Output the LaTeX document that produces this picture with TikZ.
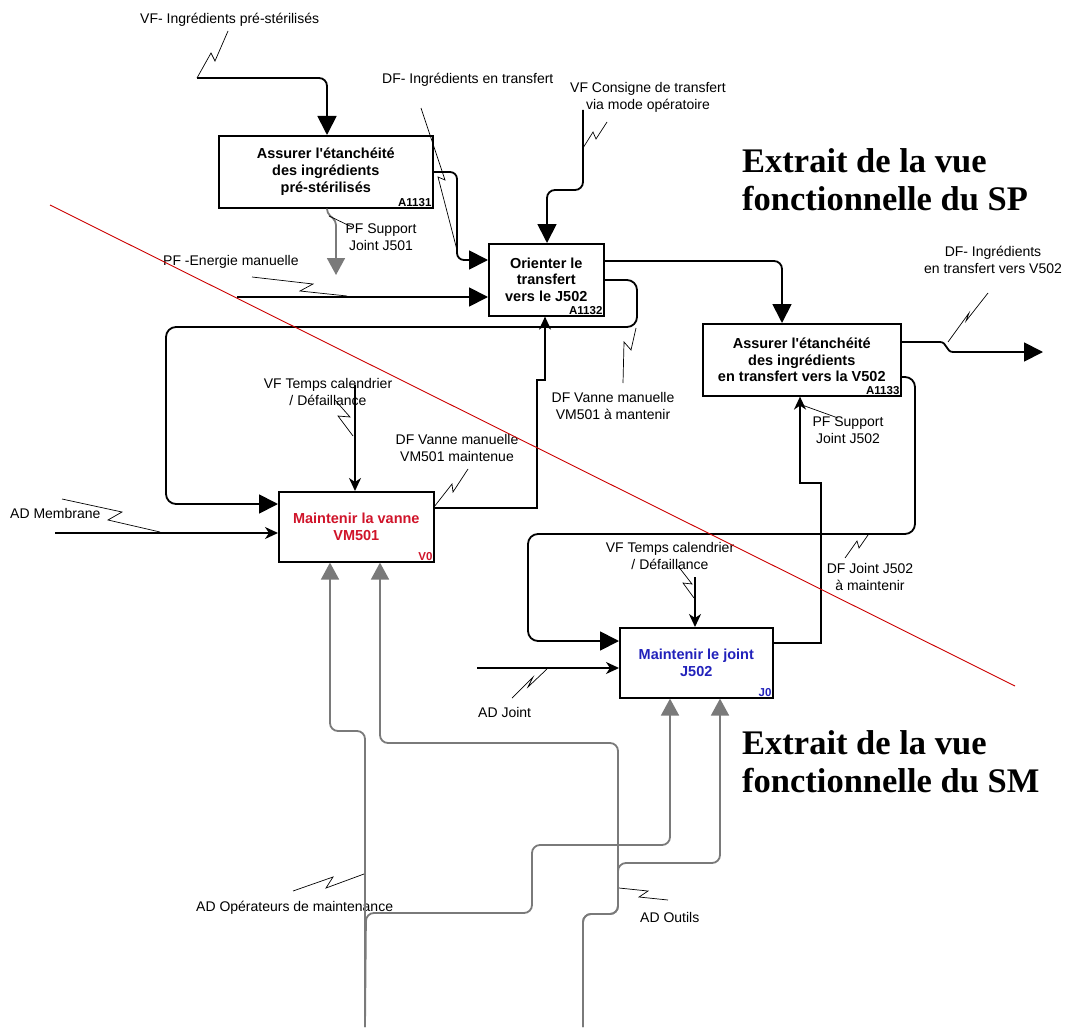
\documentclass[tikz,border=0pt]{standalone}
\usepackage{fontspec}
\setmainfont{Liberation Sans}
\newfontfamily\titlefont{Liberation Serif}
\usetikzlibrary{arrows.meta}
\definecolor{grayline}{HTML}{7A7A7A}
\definecolor{vred}{HTML}{D0142A}
\definecolor{jblue}{HTML}{2222BB}
\definecolor{diagred}{HTML}{CC0000}
\tikzset{
  box/.style={draw, line width=1.6pt, fill=white, anchor=north west, align=center, inner sep=0pt, font=\fontsize{14.5}{16.8}\selectfont\bfseries},
  boxid/.style={anchor=south east, inner sep=2pt, font=\fontsize{11.5}{13}\selectfont\bfseries},
  lbl/.style={align=center, inner sep=0pt, font=\fontsize{14}{17}\selectfont},
  flow/.style={draw, line width=1.8pt, rounded corners=8pt},
  bigtip/.style={-{Triangle[length=19pt,width=19pt]}},
  smalltip/.style={-{Stealth[length=13pt,width=12pt,inset=4pt]}},
  gflow/.style={draw=grayline, line width=1.8pt, rounded corners=8pt, -{Triangle[length=17pt,width=18pt]}},
  leader/.style={draw, line width=0.7pt},
  title/.style={anchor=base west, inner sep=0pt, font=\titlefont\fontsize{34.5}{38}\selectfont\bfseries}
}
\begin{document}
\begin{tikzpicture}[x=1pt,y=-1pt]
\useasboundingbox (0,0) rectangle (1067,1027);
\fill[white] (0,0) rectangle (1067,1027);

% boxes
\node[box, minimum width=214pt, minimum height=72pt] (A1131) at (218,135) {Assurer l\textquotesingle étanchéité\\des ingrédients\\pré-stérilisés};
\node[box, minimum width=115pt, minimum height=72pt] (A1132) at (488,243) {Orienter le\\transfert\\vers le J502};
\node[box, minimum width=198pt, minimum height=72pt] (A1133) at (702,323) {Assurer l\textquotesingle étanchéité\\des ingrédients\\en transfert vers la V502};
\node[box, minimum width=155pt, minimum height=70pt, text=vred] (V0) at (278,491) {Maintenir la vanne\\VM501};
\node[box, minimum width=153pt, minimum height=70pt, text=jblue] (J0) at (619,627) {Maintenir le joint\\J502};
\node[boxid] (A1131id) at (A1131.south east) {A1131};
\node[boxid] (A1132id) at (A1132.south east) {A1132};
\node[boxid] (A1133id) at (A1133.south east) {A1133};
\node[boxid, text=vred] (V0id) at (V0.south east) {V0};
\node[boxid, text=jblue] (J0id) at (J0.south east) {J0};

% labels
\node[lbl, anchor=west] (lVF1) at (140,20) {VF- Ingrédients pré-stérilisés};
\node[lbl, anchor=west] (lDF1) at (382,80) {DF- Ingrédients en transfert};
\node[lbl] (lVF2) at (648,97) {VF Consigne de transfert\\via mode opératoire};
\node[lbl, anchor=west] (lPF1) at (163,262) {PF -Energie manuelle};
\node[lbl] (lPF2) at (381,237) {PF Support\\Joint J501};
\node[lbl] (lDF2) at (993,260) {DF- Ingrédients\\en transfert vers V502};
\node[lbl] (lDF3) at (613,406) {DF Vanne manuelle\\VM501 à mantenir};
\node[lbl] (lVF3) at (328,392) {VF Temps calendrier\\/ Défaillance};
\node[lbl] (lDF4) at (457,448) {DF Vanne manuelle\\VM501 maintenue};
\node[lbl, anchor=west] (lAD1) at (10,513) {AD Membrane};
\node[lbl] (lPF3) at (848,430) {PF Support\\Joint J502};
\node[lbl] (lVF4) at (670,556) {VF Temps calendrier\\/ Défaillance};
\node[lbl] (lDF5) at (870,577) {DF Joint J502\\à maintenir};
\node[lbl, anchor=west] (lAD2) at (478,712) {AD Joint};
\node[lbl, anchor=west] (lAD3) at (196,908) {AD Opérateurs de maintenance};
\node[lbl, anchor=west] (lAD4) at (640,917) {AD Outils};

% titles
\node[title] (t1a) at (742,172) {Extrait de la vue};
\node[title] (t1b) at (742,210) {fonctionnelle du SP};
\node[title] (t2a) at (742,754) {Extrait de la vue};
\node[title] (t2b) at (742,792) {fonctionnelle du SM};

% VF pre-sterilises
\coordinate (vf1s) at (197,78);
\draw[leader] (228,31) -- (215,61) -- (211,53) -- (vf1s);
\draw[flow, bigtip] (vf1s) -- (327,78) -- (A1131.north -| 327,0);

% A1131 -> A1132
\draw[flow, bigtip, rounded corners=7pt] (A1131.east |- 0,172) -- (457,172) -- (457,260) -- (A1132.west |- 0,260);
\draw[leader] (421,108) -- (445,180) -- (438,177) -- (457,250);

% VF consigne
\coordinate (vf2s) at (583,110);
\draw[flow, bigtip] (vf2s) -- (583,190) -- (547,190) -- (A1132.north -| 547,0);
\draw[leader] (607,122) -- (596,139) -- (593,132) -- (583,148);

% PF energie
\coordinate (pf1s) at (237,297);
\draw[flow, bigtip] (pf1s) -- (A1132.west |- 0,297);
\draw[leader] (252,277) -- (313,284) -- (300,291) -- (347,296);

% gray PF support J501
\coordinate (pf2e) at (336,275);
\draw[gflow, rounded corners=4pt] (A1131.south -| 327,0) -- (327,213) -- (336,221) -- (pf2e);
\draw[leader] (329,216) -- (352,227);

% A1132 -> A1133
\draw[flow, bigtip] (A1132.east |- 0,261) -- (782,261) -- (A1133.north -| 782,0);

% A1132 -> V0 feedback
\draw[flow, bigtip, rounded corners=10pt] (A1132.east |- 0,280) -- (637,280) -- (637,327) -- (166,327) -- (166,504) -- (V0.west |- 0,504);
\draw[leader] (623,383) -- (624,342) -- (631,350) -- (636,328);

% V0 -> A1132
\draw[flow, smalltip, sharp corners] (V0.east |- 0,508) -- (537,508) -- (537,380) -- (545,380) -- (A1132.south -| 545,0);
\draw[leader] (468,469) -- (453,492) -- (452,484) -- (434,507);

% VF temps V0
\coordinate (vf3s) at (355,385);
\draw[flow, smalltip] (vf3s) -- (V0.north -| 355,0);
\draw[leader] (335,400) -- (350,417) -- (338,416) -- (353,436);

% AD membrane
\coordinate (ad1s) at (55,533);
\draw[flow, smalltip] (ad1s) -- (V0.west |- 0,533);
\draw[leader] (62,499) -- (122,512) -- (108,520) -- (160,532);

% gray mechanisms
\coordinate (g1) at (365,1027);
\coordinate (g2) at (583,1027);
\draw[gflow] (g1) -- (365,731) -- (330,731) -- (V0.south -| 330,0);
\draw[gflow] (g2) -- (583,914) -- (618,914) -- (618,743) -- (380,743) -- (V0.south -| 380,0);
\draw[gflow] (g1) -- (366,913) -- (532,913) -- (532,845) -- (670,845) -- (J0.south -| 670,0);
\draw[gflow] (g2) -- (583,914) -- (618,914) -- (618,863) -- (720,863) -- (J0.south -| 720,0);
\draw[leader] (293,891) -- (333,877) -- (326,888) -- (364,874);
\draw[leader] (668,900) -- (639,897) -- (648,891) -- (619,888);

% VF temps J0
\coordinate (vf4s) at (695,577);
\draw[flow, smalltip] (vf4s) -- (J0.north -| 695,0);
\draw[leader] (678,566) -- (692,584) -- (683,583) -- (694,598);

% A1133 -> J0 feedback
\draw[flow, bigtip, rounded corners=10pt] (A1133.east |- 0,377) -- (915,377) -- (915,534) -- (528,534) -- (528,641) -- (J0.west |- 0,641);
\draw[leader] (845,558) -- (857,541) -- (859,548) -- (868,535);

% J0 -> A1133
\draw[flow, smalltip, sharp corners] (J0.east |- 0,643) -- (821,643) -- (821,483) -- (800,483) -- (A1133.south -| 800,0);
\draw[leader] (802,405) -- (838,418);

% AD joint
\coordinate (ad2s) at (477,668);
\draw[flow, smalltip] (ad2s) -- (J0.west |- 0,668);
\draw[leader] (512,698) -- (533,677) -- (528,687) -- (547,669);

% A1133 output
\coordinate (out3) at (1043,352);
\draw[flow, bigtip, sharp corners] (A1133.east |- 0,342) -- (940,342) .. controls (947,342) and (946,352) .. (953,352) -- (out3);
\draw[leader] (988,293) -- (966,321) -- (969,313) -- (948,342);

% red diagonal
\draw[diagred, line width=0.9pt] (50,205) -- (1015,686);
\end{tikzpicture}
\end{document}
